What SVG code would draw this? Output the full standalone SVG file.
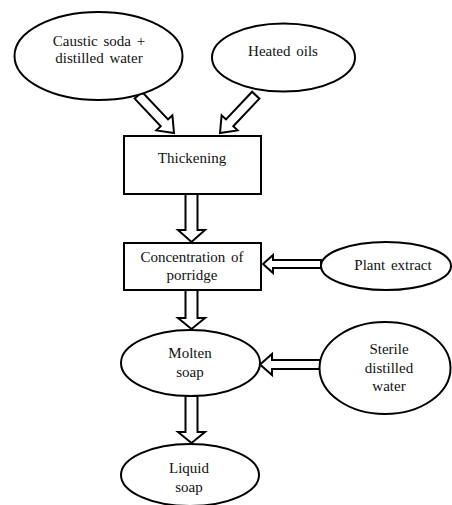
<svg xmlns="http://www.w3.org/2000/svg" width="452" height="505" viewBox="0 0 452 505">
<style>
.n{fill:#fff;stroke:#000;stroke-width:2}
.a{fill:#fff;stroke:#000;stroke-width:2;stroke-linejoin:miter}
.t{font-family:'Liberation Serif','Times New Roman','DejaVu Serif',serif;font-size:15px;fill:#111;text-anchor:middle;word-spacing:2px}
</style>
<rect width="452" height="505" fill="#fff"/>
<g id="connectors">
<polygon class="a" transform="translate(174,133) rotate(46.6)" points="-52,-5 -14,-5 -14,-11 0,0 -14,11 -14,5 -52,5"/>
<polygon class="a" transform="translate(220,133) rotate(133.4)" points="-52,-5 -14,-5 -14,-11 0,0 -14,11 -14,5 -52,5"/>
<polygon class="a" points="185.5,194 197.5,194 197.5,230 205,230 191.5,242 178,230 185.5,230"/>
<polygon class="a" points="185.5,290 197.5,290 197.5,318 205,318 191.5,329 178,318 185.5,318"/>
<polygon class="a" points="185.5,396 197.5,396 197.5,432 205,432 191.5,443 178,432 185.5,432"/>
<polygon class="a" points="321,260 273,260 273,255 263,264 273,273 273,268 321,268"/>
<polygon class="a" points="320,360 272,360 272,354 260,364.5 272,375 272,369 320,369"/>
</g>
<g id="caustic">
<ellipse class="n" cx="98.5" cy="56" rx="84" ry="44"/>
<text class="t" font-family="Liberation Serif, serif" x="99" y="46">Caustic soda +</text>
<text class="t" font-family="Liberation Serif, serif" x="99" y="63">distilled water</text>
</g>
<g id="oils">
<ellipse class="n" cx="283.5" cy="57.5" rx="71.5" ry="34"/>
<text class="t" x="283" y="56">Heated oils</text>
</g>
<g id="thickening">
<rect class="n" x="124" y="136" width="137" height="58"/>
<text class="t" x="192" y="163">Thickening</text>
</g>
<g id="concentration">
<rect class="n" x="124" y="243" width="137" height="47"/>
<text class="t" x="192" y="262">Concentration of</text>
<text class="t" x="192" y="280">porridge</text>
</g>
<g id="plant">
<ellipse class="n" cx="386" cy="266" rx="65" ry="24"/>
<text class="t" x="393" y="270">Plant extract</text>
</g>
<g id="molten">
<ellipse class="n" cx="190.5" cy="363" rx="69.5" ry="33"/>
<text class="t" x="190" y="358">Molten</text>
<text class="t" x="190" y="377">soap</text>
</g>
<g id="sterile">
<ellipse class="n" cx="385" cy="368" rx="65.5" ry="46"/>
<text class="t" x="389" y="354">Sterile</text>
<text class="t" x="389" y="373">distilled</text>
<text class="t" x="389" y="391">water</text>
</g>
<g id="liquid">
<ellipse class="n" cx="190" cy="475" rx="69" ry="31"/>
<text class="t" x="189" y="473">Liquid</text>
<text class="t" x="189" y="492">soap</text>
</g>
</svg>
